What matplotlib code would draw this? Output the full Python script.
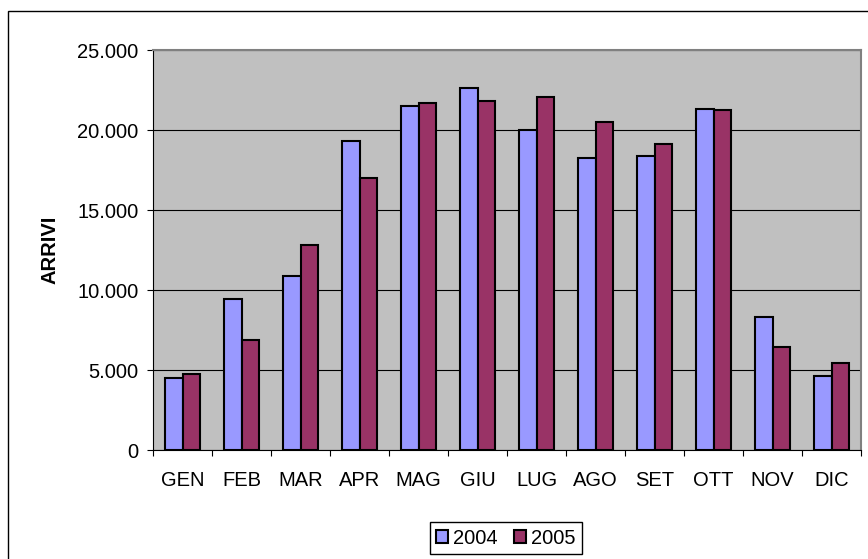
import matplotlib.pyplot as plt
import numpy as np
from matplotlib.patches import Rectangle
from matplotlib.ticker import FuncFormatter

plt.rcParams['font.family'] = ['Liberation Sans', 'DejaVu Sans']

mesi = ['GEN', 'FEB', 'MAR', 'APR', 'MAG', 'GIU', 'LUG', 'AGO', 'SET', 'OTT', 'NOV', 'DIC']
arrivi_2004 = [4480, 9460, 10880, 19330, 21520, 22600, 19980, 18230, 18400, 21330, 8290, 4630]
arrivi_2005 = [4750, 6880, 12790, 17020, 21710, 21810, 22040, 20480, 19150, 21250, 6440, 5460]
anni = ['2004', '2005']

fs = 14.5

fig = plt.figure(figsize=(8.68, 5.59), dpi=100)
ax = fig.add_axes([153/868, 1 - 450/559, 708/868, 400/559])

# cornice esterna (tagliata a destra e in basso)
fig.patches.append(Rectangle((8/868, -0.1), 1.2, 1 - 11/559 + 0.1, transform=fig.transFigure,
                             fill=False, edgecolor='black', lw=1.0))

x = np.arange(len(mesi))
w = 0.29
ax.bar(x - w/2, arrivi_2004, w, color='#9999FF', edgecolor='black', lw=1.5, label=anni[0], zorder=3)
ax.bar(x + w/2, arrivi_2005, w, color='#993366', edgecolor='black', lw=1.5, label=anni[1], zorder=3)

ax.set_facecolor('#C0C0C0')
ax.set_xlim(-0.5, len(mesi) - 0.5)
ax.set_ylim(0, 25000)
ax.set_yticks(range(0, 25001, 5000))
ax.yaxis.set_major_formatter(FuncFormatter(lambda v, p: '{:,.0f}'.format(v).replace(',', '.')))
ax.yaxis.grid(True, color='black', lw=0.8, zorder=1)

ax.set_xticks(x)
ax.set_xticklabels(mesi)
ax.set_xticks(np.arange(-0.5, len(mesi)), minor=True)
ax.tick_params(axis='x', which='major', length=0, pad=15, labelsize=fs)
ax.tick_params(axis='x', which='minor', length=4.5, width=0.8, direction='out')
ax.tick_params(axis='y', length=4.5, width=0.8, direction='out', labelsize=fs, pad=6)

for s in ['top', 'right']:
    ax.spines[s].set_color('#808080')
    ax.spines[s].set_linewidth(1.5)
for s in ['left', 'bottom']:
    ax.spines[s].set_color('black')
    ax.spines[s].set_linewidth(0.8)

ax.set_ylabel('ARRIVI', fontsize=fs, fontweight='bold', labelpad=13)

leg = fig.legend(loc='center', bbox_to_anchor=(506/868, 1 - 538/559), ncol=2, fontsize=fs,
                 handlelength=0.6, handleheight=0.6, handletextpad=0.25, columnspacing=0.8,
                 fancybox=False, framealpha=1, edgecolor='black', borderpad=0.3)
leg.get_frame().set_linewidth(1.0)

fig.savefig('out.png', dpi=100)
